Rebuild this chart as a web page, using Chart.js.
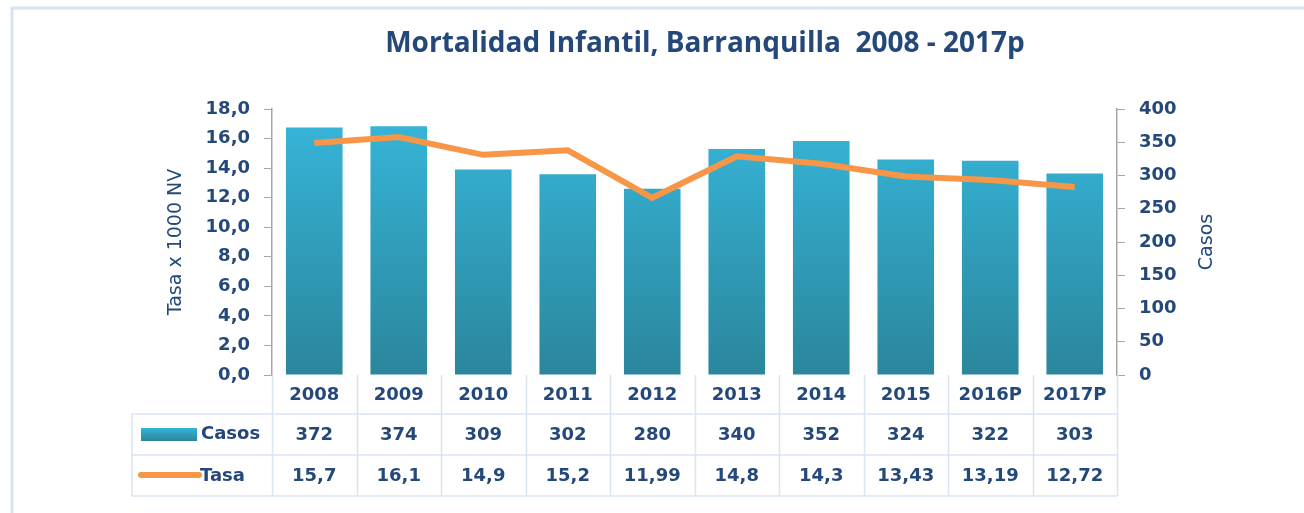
<!DOCTYPE html>
<html>
<head>
<meta charset="utf-8">
<script src="https://cdn.jsdelivr.net/npm/chart.js@4.4.1/dist/chart.umd.min.js"></script>
<style>
  html, body { margin: 0; padding: 0; background: #fff; }
  #wrap { width: 1304px; height: 513px; }
</style>
</head>
<body>
<div id="wrap"><canvas id="mortChart" width="1304" height="513"></canvas></div>
<script>
// Mortalidad Infantil, Barranquilla 2008 - 2017p
const years = ["2008", "2009", "2010", "2011", "2012", "2013", "2014", "2015", "2016P", "2017P"];
const casos = [372, 374, 309, 302, 280, 340, 352, 324, 322, 303];
const tasa = [15.7, 16.1, 14.9, 15.2, 11.99, 14.8, 14.3, 13.43, 13.19, 12.72];
const tasaLabels = ["15,7", "16,1", "14,9", "15,2", "11,99", "14,8", "14,3", "13,43", "13,19", "12,72"];

const navy = "#24487a";
const orange = "#f79646";
const tableLine = "#d9e5f4";
const titleFont = "'Open Sans', 'Noto Sans', sans-serif";
const fontFam = "'DejaVu Sans', sans-serif";

function barGradient(ctx, top, bottom) {
  const g = ctx.createLinearGradient(0, top, 0, bottom);
  g.addColorStop(0, "#36b3d6");
  g.addColorStop(1, "#2a869c");
  return g;
}

// table + title + frame drawn after the chart
const tablePlugin = {
  id: "dataTable",
  afterDraw(chart) {
    const ctx = chart.ctx;
    const x = chart.scales.x;
    const area = chart.chartArea;
    const left = area.left, right = area.right;
    const colW = (right - left) / years.length;
    const rows = [area.bottom, 414, 455, 496];
    const tableLeft = 132;

    ctx.save();
    // outer frame
    ctx.strokeStyle = "#d6e3f3";
    ctx.lineWidth = 3;
    ctx.beginPath();
    ctx.moveTo(12, 520);
    ctx.lineTo(12, 8);
    ctx.lineTo(1310, 8);
    ctx.stroke();

    // title
    ctx.fillStyle = navy;
    ctx.font = "bold 28px " + titleFont;
    ctx.textAlign = "center";
    ctx.textBaseline = "middle";
    ctx.fillText("Mortalidad Infantil, Barranquilla  2008 - 2017p", 705, 44);

    // right axis title, reads bottom to top like the left one
    ctx.save();
    ctx.translate(1207, (area.top + area.bottom) / 2);
    ctx.rotate(-Math.PI / 2);
    ctx.font = "19px " + fontFam;
    ctx.fillText("Casos", 0, 0);
    ctx.restore();

    // grid of table
    ctx.strokeStyle = tableLine;
    ctx.lineWidth = 1.5;
    ctx.beginPath();
    for (let i = 0; i <= years.length; i++) {
      const cx = Math.round(left + i * colW) + 0.5;
      ctx.moveTo(cx, rows[0]);
      ctx.lineTo(cx, rows[3]);
    }
    ctx.moveTo(tableLeft, rows[1]); ctx.lineTo(right, rows[1]);
    ctx.moveTo(tableLeft, rows[2]); ctx.lineTo(right, rows[2]);
    ctx.moveTo(tableLeft, rows[3]); ctx.lineTo(right, rows[3]);
    ctx.moveTo(tableLeft, rows[1]); ctx.lineTo(tableLeft, rows[3]);
    ctx.stroke();

    // cell texts
    ctx.fillStyle = navy;
    ctx.font = "bold 18px " + fontFam;
    ctx.textAlign = "center";
    years.forEach((y, i) => {
      const cx = x.getPixelForValue(i);
      ctx.fillText(y, cx, (rows[0] + rows[1]) / 2 + 1);
      ctx.fillText(String(casos[i]), cx, (rows[1] + rows[2]) / 2 + 1);
      ctx.fillText(tasaLabels[i], cx, (rows[2] + rows[3]) / 2 + 1);
    });

    // legend keys
    ctx.fillStyle = barGradient(ctx, 428, 441);
    ctx.fillRect(141, 428, 56, 13);
    ctx.strokeStyle = orange;
    ctx.lineWidth = 6;
    ctx.lineCap = "round";
    ctx.beginPath();
    ctx.moveTo(141, 475);
    ctx.lineTo(199, 475);
    ctx.stroke();
    ctx.fillStyle = navy;
    ctx.textAlign = "left";
    ctx.font = "bold 18px " + fontFam;
    ctx.fillText("Casos", 201, 434);
    ctx.fillText("Tasa", 200, 476);
    ctx.restore();
  }
};

const mortChart = new Chart(document.getElementById("mortChart"), {
  data: {
    labels: years,
    datasets: [
      {
        type: "line",
        label: "Tasa",
        data: tasa,
        yAxisID: "y",
        borderColor: orange,
        borderWidth: 6,
        pointRadius: 0,
        tension: 0,
        order: 0,
      },
      {
        type: "bar",
        label: "Casos",
        data: casos,
        yAxisID: "y1",
        backgroundColor: (c) => {
          const a = c.chart.chartArea;
          if (!a) return "#31a6c6";
          return barGradient(c.chart.ctx, a.top + 20, a.bottom);
        },
        borderWidth: 0,
        categoryPercentage: 1,
        barPercentage: 0.67,
        order: 1,
      },
    ],
  },
  options: {
    responsive: false,
    animation: false,
    layout: {
      padding: { left: 165, right: 85, top: 109, bottom: 138 },
    },
    scales: {
      x: {
        display: false,
      },
      y: {
        position: "left",
        min: 0,
        max: 18,
        afterFit: (s) => { s.width = 107; },
        ticks: {
          stepSize: 2,
          padding: 14,
          color: navy,
          font: { family: fontFam, size: 18, weight: "bold" },
          callback: (v) => v.toFixed(1).replace(".", ","),
        },
        grid: {
          drawOnChartArea: false,
          tickLength: 8,
          color: "#a6a6a6",
        },
        border: { color: "#a6a6a6", width: 1.5 },
        title: {
          display: true,
          text: "Tasa x 1000 NV",
          color: navy,
          padding: 0,
          font: { family: fontFam, size: 19 },
        },
      },
      y1: {
        position: "right",
        min: 0,
        max: 400,
        afterFit: (s) => { s.width = 102; },
        ticks: {
          stepSize: 50,
          padding: 14,
          color: navy,
          font: { family: fontFam, size: 18, weight: "bold" },
        },
        grid: {
          drawOnChartArea: false,
          tickLength: 8,
          color: "#a6a6a6",
        },
        border: { color: "#a6a6a6", width: 1.5 },
      },
    },
    plugins: {
      legend: { display: false },
      tooltip: { enabled: false },
    },
  },
  plugins: [tablePlugin],
});
</script>
</body>
</html>
